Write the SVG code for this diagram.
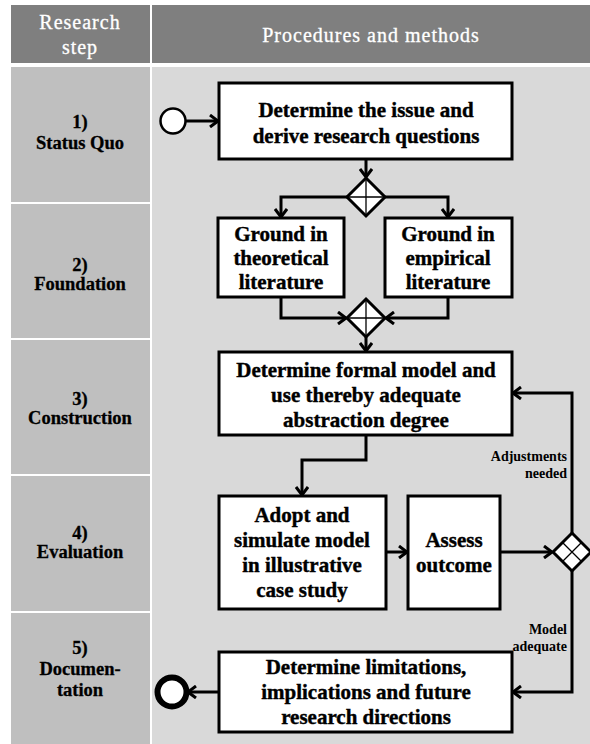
<svg xmlns="http://www.w3.org/2000/svg" width="590" height="744" viewBox="0 0 590 744">
<defs>
<marker id="arr" markerWidth="12" markerHeight="14" refX="10" refY="7" orient="auto" markerUnits="userSpaceOnUse">
<path d="M2,1 L10,7 L2,13" fill="none" stroke="#000" stroke-width="3"/>
</marker>
<style>
.hdr{fill:#7f7f7f}
.lc{fill:#bfbfbf}
.rc{fill:#d9d9d9}
.ht{font-family:"Liberation Serif",serif;font-size:20px;fill:#fff;text-anchor:middle;letter-spacing:1px;stroke:#fff;stroke-width:0.3}
.st{font-family:"Liberation Serif",serif;font-weight:bold;font-size:18.5px;fill:#000;text-anchor:middle;stroke:#000;stroke-width:0.3}
.box{fill:#fff;stroke:#000;stroke-width:3}
.bt{font-family:"Liberation Serif",serif;font-weight:bold;font-size:21px;fill:#000;text-anchor:middle;stroke:#000;stroke-width:0.4}
.lt{font-family:"Liberation Serif",serif;font-weight:bold;font-size:14px;fill:#000;text-anchor:end}
.con{fill:none;stroke:#000;stroke-width:3}
.gw{fill:#fff;stroke:#000;stroke-width:3}
.in{stroke:#000;stroke-width:1.3;fill:none}
</style>
</defs>
<rect width="590" height="744" fill="#fff"/>
<g id="table">
<rect class="hdr" x="11" y="5" width="139" height="58"/>
<rect class="hdr" x="152" y="5" width="438" height="58"/>
<rect class="lc" x="11" y="67" width="139" height="135"/>
<rect class="lc" x="11" y="204" width="139" height="134"/>
<rect class="lc" x="11" y="340" width="139" height="134"/>
<rect class="lc" x="11" y="476" width="139" height="135"/>
<rect class="lc" x="11" y="613" width="139" height="131"/>
<rect class="rc" x="152" y="67" width="438" height="677"/>
<text class="ht" x="80" y="29">Research</text>
<text class="ht" x="80" y="54">step</text>
<text class="ht" x="371" y="42">Procedures and methods</text>
<text class="st" x="80" y="128">1)</text>
<text class="st" x="80" y="149">Status Quo</text>
<text class="st" x="80" y="271">2)</text>
<text class="st" x="80" y="290">Foundation</text>
<text class="st" x="80" y="405">3)</text>
<text class="st" x="80" y="424">Construction</text>
<text class="st" x="80" y="539">4)</text>
<text class="st" x="80" y="558">Evaluation</text>
<text class="st" x="80" y="654">5)</text>
<text class="st" x="80" y="675">Documen-</text>
<text class="st" x="80" y="696">tation</text>
</g>
<g id="start"><circle cx="173" cy="121" r="12.5" fill="#fff" stroke="#000" stroke-width="2.5"/></g>
<g id="end"><circle cx="172" cy="692" r="14.5" fill="#fff" stroke="#000" stroke-width="6"/></g>
<g id="box1"><rect class="box" x="219" y="83" width="293" height="76"/>
<text class="bt" x="366" y="117">Determine the issue and</text>
<text class="bt" x="366" y="143">derive research questions</text></g>
<g id="gw1"><path class="gw" d="M366,178 L385,197 L366,216 L347,197 Z"/><path class="in" d="M366,178 V216 M347,197 H385"/></g>
<g id="box2a"><rect class="box" x="218" y="218" width="126" height="79"/>
<text class="bt" x="281" y="241">Ground in</text>
<text class="bt" x="281" y="265">theoretical</text>
<text class="bt" x="281" y="289">literature</text></g>
<g id="box2b"><rect class="box" x="385" y="218" width="127" height="79"/>
<text class="bt" x="448" y="241">Ground in</text>
<text class="bt" x="448" y="265">empirical</text>
<text class="bt" x="448" y="289">literature</text></g>
<g id="gw2"><path class="gw" d="M366,299 L385,318 L366,337 L347,318 Z"/><path class="in" d="M366,299 V337 M347,318 H385"/></g>
<g id="box3"><rect class="box" x="219" y="352" width="293" height="83"/>
<text class="bt" x="366" y="377">Determine formal model and</text>
<text class="bt" x="366" y="402">use thereby adequate</text>
<text class="bt" x="366" y="427">abstraction degree</text></g>
<g id="box4a"><rect class="box" x="219" y="496" width="167" height="113"/>
<text class="bt" x="302" y="522">Adopt and</text>
<text class="bt" x="302" y="547">simulate model</text>
<text class="bt" x="302" y="572">in illustrative</text>
<text class="bt" x="302" y="597">case study</text></g>
<g id="box4b"><rect class="box" x="408" y="496" width="92" height="113"/>
<text class="bt" x="454" y="547">Assess</text>
<text class="bt" x="454" y="572">outcome</text></g>
<g id="gw3"><path class="gw" d="M572,533 L591,552 L572,571 L553,552 Z"/><path class="in" stroke-width="2" d="M562.5,542.5 L581.5,561.5 M581.5,542.5 L562.5,561.5"/></g>
<g id="box5"><rect class="box" x="219" y="652" width="293" height="80"/>
<text class="bt" x="366" y="674">Determine limitations,</text>
<text class="bt" x="366" y="699">implications and future</text>
<text class="bt" x="366" y="724">research directions</text></g>
<g id="connectors">
<path class="con" marker-end="url(#arr)" d="M186,121 H218"/>
<path class="con" marker-end="url(#arr)" d="M366,159 V177"/>
<path class="con" marker-end="url(#arr)" d="M347,197 H281 V217"/>
<path class="con" marker-end="url(#arr)" d="M385,197 H448 V217"/>
<path class="con" marker-end="url(#arr)" d="M281,297 V318 H346"/>
<path class="con" marker-end="url(#arr)" d="M448,297 V318 H386"/>
<path class="con" marker-end="url(#arr)" d="M366,337 V351"/>
<path class="con" marker-end="url(#arr)" d="M366,435 V460 H302 V495"/>
<path class="con" marker-end="url(#arr)" d="M386,552 H407"/>
<path class="con" marker-end="url(#arr)" d="M500,552 H552"/>
<path class="con" marker-end="url(#arr)" d="M572,533 V393 H513"/>
<path class="con" marker-end="url(#arr)" d="M572,571 V692 H513"/>
<path class="con" marker-end="url(#arr)" d="M218,692 H188"/>
<text class="lt" x="567" y="461">Adjustments</text>
<text class="lt" x="567" y="478">needed</text>
<text class="lt" x="567" y="634">Model</text>
<text class="lt" x="567" y="651">adequate</text>
</g>
</svg>
